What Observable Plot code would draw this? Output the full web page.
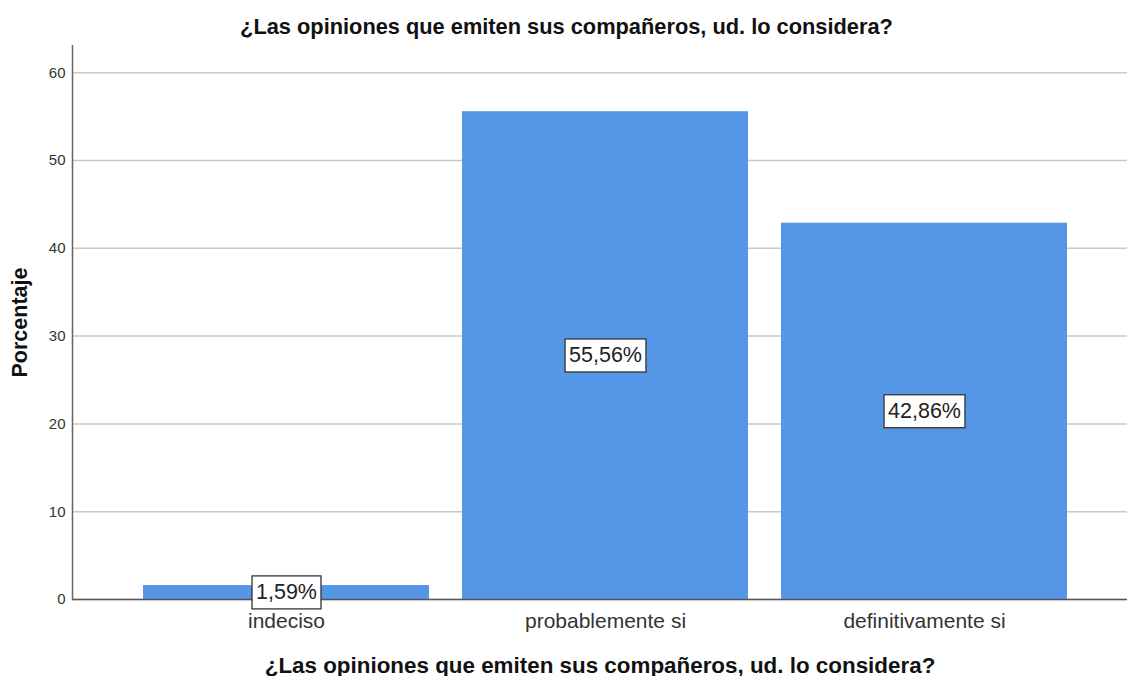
<!DOCTYPE html>
<html><head><meta charset="utf-8">
<script src="https://cdn.jsdelivr.net/npm/d3@7"></script>
<script src="https://cdn.jsdelivr.net/npm/@observablehq/plot@0.6"></script>
<style>
body{margin:0;background:#fff;font-family:"Liberation Sans",Arial,sans-serif;}
#title{width:1127px;height:45px;box-sizing:border-box;padding-left:6px;padding-top:15px;text-align:center;font-weight:bold;font-size:21.8px;line-height:24px;color:#111;}
#chart svg{display:block;}
g[aria-label="x-axis label"] text{font-weight:bold;font-size:22.4px;fill:#111;}
g[aria-label="y-axis label"] text{font-weight:bold;font-size:21.5px;fill:#111;}
g[aria-label="y-axis tick label"] text{font-size:15px;}
</style></head>
<body><div id="title"></div><div id="chart"></div>
<script>
const chartTitle = "¿Las opiniones que emiten sus compañeros, ud. lo considera?";
const xTitle = "¿Las opiniones que emiten sus compañeros, ud. lo considera?";
const yTitle = "Porcentaje";
const categories = ["indeciso", "probablemente si", "definitivamente si"];
const percentages = [1.59, 55.56, 42.86];
const valueLabels = ["1,59%", "55,56%", "42,86%"];
const yTicks = [0, 10, 20, 30, 40, 50, 60];

document.getElementById("title").textContent = chartTitle;
const data = categories.map((c, i) => ({category: c, value: percentages[i], label: valueLabels[i]}));

const plot = Plot.plot({
  width: 1127, height: 631,
  marginTop: 0, marginRight: 0, marginBottom: 77, marginLeft: 72,
  style: {fontFamily: "Liberation Sans, Arial, sans-serif", background: "#fff", color: "#333"},
  x: {domain: categories, paddingInner: 0.103, paddingOuter: 0.2, align: 0.54},
  y: {domain: [0, 63.1]},
  marks: [
    Plot.gridY(yTicks, {stroke: "#c8c8c8", strokeOpacity: 1, strokeWidth: 1.5}),
    Plot.barY(data, {x: "category", y: "value", fill: "#5596e6"}),
    Plot.ruleY([0], {stroke: "#555", strokeWidth: 1.5}),
    Plot.frame({anchor: "left", stroke: "#666", strokeWidth: 1.5}),
    Plot.axisY(yTicks, {tickSize: 0, tickPadding: 7, fontSize: 15, label: yTitle, labelAnchor: "center", labelOffset: 61, labelArrow: "none"}),
    Plot.axisX({tickSize: 0, tickPadding: 14, fontSize: 21, label: xTitle, labelAnchor: "center", labelOffset: 73}),
    Plot.text(data, {x: "category", y: d => d.value / 2, text: "label", fontSize: 21.5, fill: "#222", lineAnchor: "middle"})
  ]
});
document.getElementById("chart").append(plot);

d3.select(plot).selectAll('g[aria-label="text"] text').each(function() {
  const b = this.getBBox();
  const rect = document.createElementNS("http://www.w3.org/2000/svg", "rect");
  rect.setAttribute("x", b.x - 4);
  rect.setAttribute("y", b.y - 4.5);
  rect.setAttribute("width", b.width + 8);
  rect.setAttribute("height", b.height + 9);
  rect.setAttribute("fill", "#fff");
  rect.setAttribute("stroke", "#333");
  rect.setAttribute("stroke-width", "1.3");
  const t = this.getAttribute("transform");
  if (t) rect.setAttribute("transform", t);
  this.parentNode.insertBefore(rect, this);
});
</script>
</body></html>
